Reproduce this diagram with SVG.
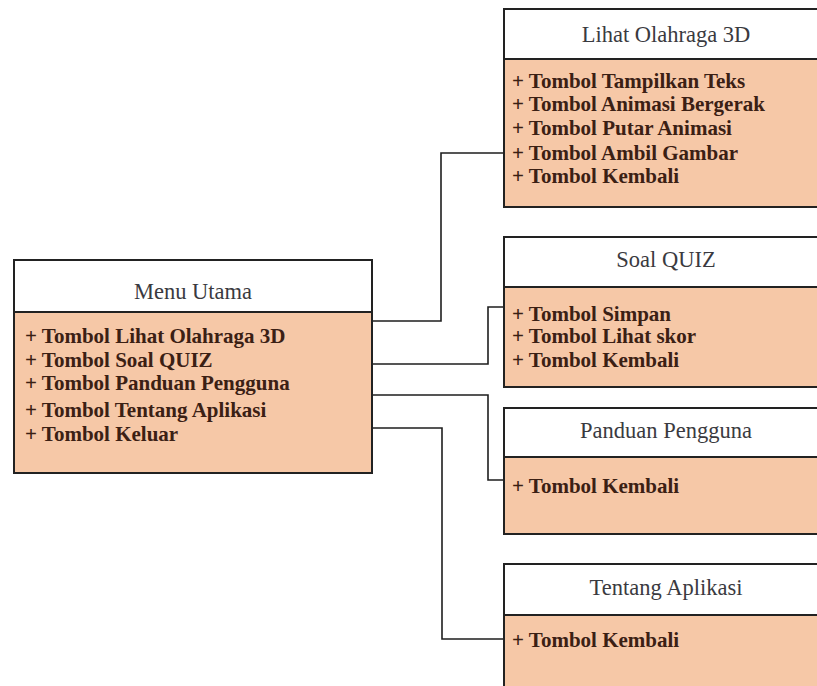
<svg xmlns="http://www.w3.org/2000/svg" width="817" height="686" viewBox="0 0 817 686">
  <style>
    .head { fill: #ffffff; stroke: #222222; stroke-width: 2; }
    .body { fill: #f6c8a7; stroke: #222222; stroke-width: 2; }
    .title { font-family: "Liberation Serif", "Times New Roman", serif; font-size: 22.5px; fill: #3a3a40; text-anchor: middle; }
    .item { font-family: "Liberation Serif", "Times New Roman", serif; font-size: 21px; font-weight: bold; fill: #3b2014; }
    .link { fill: none; stroke: #1e1e1e; stroke-width: 1.6; }
  </style>
  <rect width="817" height="686" fill="#ffffff"/>

  <!-- connectors from the main menu to each screen -->
  <g id="connectors">
    <polyline class="link" points="372,321 441,321 441,153 504,153"/>
    <polyline class="link" points="372,364 488,364 488,307 504,307"/>
    <polyline class="link" points="372,395 488,395 488,480 504,480"/>
    <polyline class="link" points="372,428 442,428 442,639 504,639"/>
  </g>

  <g id="menu-utama">
    <rect class="head" x="14" y="260" width="358" height="52"/>
    <rect class="body" x="14" y="312" width="358" height="161"/>
    <text class="title" x="193" y="299">Menu Utama</text>
    <text class="item" x="25" y="343">+ Tombol Lihat Olahraga 3D</text>
    <text class="item" x="25" y="367">+ Tombol Soal QUIZ</text>
    <text class="item" x="25" y="390">+ Tombol Panduan Pengguna</text>
    <text class="item" x="25" y="417">+ Tombol Tentang Aplikasi</text>
    <text class="item" x="25" y="441">+ Tombol Keluar</text>
  </g>

  <g id="lihat-olahraga-3d">
    <rect class="head" x="504" y="9" width="324" height="50"/>
    <rect class="body" x="504" y="59" width="324" height="148"/>
    <text class="title" x="666" y="42">Lihat Olahraga 3D</text>
    <text class="item" x="512" y="88">+ Tombol Tampilkan Teks</text>
    <text class="item" x="512" y="111">+ Tombol Animasi Bergerak</text>
    <text class="item" x="512" y="135">+ Tombol Putar Animasi</text>
    <text class="item" x="512" y="160">+ Tombol Ambil Gambar</text>
    <text class="item" x="512" y="183">+ Tombol Kembali</text>
  </g>

  <g id="soal-quiz">
    <rect class="head" x="504" y="237" width="324" height="50"/>
    <rect class="body" x="504" y="287" width="324" height="100"/>
    <text class="title" x="666" y="267">Soal QUIZ</text>
    <text class="item" x="512" y="321">+ Tombol Simpan</text>
    <text class="item" x="512" y="343">+ Tombol Lihat skor</text>
    <text class="item" x="512" y="367">+ Tombol Kembali</text>
  </g>

  <g id="panduan-pengguna">
    <rect class="head" x="504" y="408" width="324" height="49"/>
    <rect class="body" x="504" y="457" width="324" height="77"/>
    <text class="title" x="666" y="438">Panduan Pengguna</text>
    <text class="item" x="512" y="493">+ Tombol Kembali</text>
  </g>

  <g id="tentang-aplikasi">
    <rect class="head" x="504" y="564" width="324" height="51"/>
    <rect class="body" x="504" y="615" width="324" height="90"/>
    <text class="title" x="666" y="595">Tentang Aplikasi</text>
    <text class="item" x="512" y="647">+ Tombol Kembali</text>
  </g>
</svg>
